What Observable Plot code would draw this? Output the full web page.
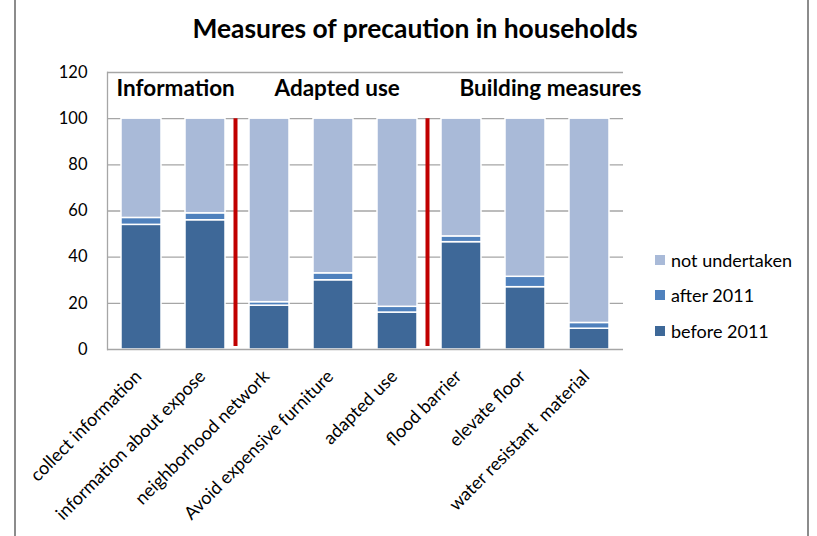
<!DOCTYPE html>
<html>
<head>
<meta charset="utf-8">
<script src="https://cdn.jsdelivr.net/npm/d3@7"></script>
<script src="https://cdn.jsdelivr.net/npm/@observablehq/plot@0.6"></script>
<style>
  html, body { margin: 0; padding: 0; background: #fff; }
  #wrap { position: relative; width: 817px; height: 536px; overflow: hidden; font-family: Lato, "Open Sans", sans-serif; }
  #wrap .edge { position: absolute; top: 0; bottom: 0; width: 1.5px; background: #8c8c8c; }
  #title { position: absolute; top: 12px; left: 0; width: 830px; text-align: center; font-weight: bold; font-size: 26.4px; color: #000; }
  #legend { position: absolute; left: 655px; top: 242px; font-size: 18px; color: #000; }
  #legend .item { display: flex; align-items: center; height: 35.5px; }
  #legend .sw { width: 10px; height: 10px; margin-right: 6px; }
  #chart { position: absolute; left: 0; top: 0; }
</style>
</head>
<body>
<div id="wrap">
  <div class="edge" style="left:14px"></div>
  <div class="edge" style="left:807px"></div>
  <div id="chart"></div>
  <div id="title"></div>
  <div id="legend"></div>
</div>
<script>
const titleText = "Measures of precaution in households";
const categories = ["collect information", "information about expose", "neighborhood network", "Avoid expensive furniture", "adapted use", "flood barrier", "elevate floor", "water resistant  material"];
const before2011 = [54, 56, 19, 30, 16, 46.5, 27, 9];
const after2011 = [3, 3, 1.5, 3, 2.5, 2.5, 4.5, 2.5];
const notUndertaken = [43, 41, 79.5, 67, 81.5, 51, 68.5, 88.5];
const statuses = ["before 2011", "after 2011", "not undertaken"];
const statusColors = ["#3e6898", "#4f81bd", "#a9bad8"];
const legendOrder = ["not undertaken", "after 2011", "before 2011"];
const yTicks = [0, 20, 40, 60, 80, 100, 120];
const groupLabels = ["Information", "Adapted use", "Building measures"];
const groupStart = ["collect information", "neighborhood network", "flood barrier"];
const separatorsAfter = ["information about expose", "adapted use"];

const rows = categories.flatMap((c, i) => [
  {cat: c, status: statuses[0], v: before2011[i]},
  {cat: c, status: statuses[1], v: after2011[i]},
  {cat: c, status: statuses[2], v: notUndertaken[i]}
]);
const groups = groupLabels.map((label, i) => ({label, cat: groupStart[i]}));
const groupDx = [-25, 5, -2];
const groupMarks = groups.map((g, i) =>
  Plot.text([g], {x: "cat", y: 113, text: "label", textAnchor: "start", dx: groupDx[i], fontWeight: "bold", fontSize: 22.5})
);

const chart = Plot.plot({
  width: 817,
  height: 536,
  marginLeft: 107,
  marginRight: 194,
  marginTop: 72,
  marginBottom: 187,
  style: {fontFamily: "Lato, 'Open Sans', sans-serif", fontSize: "15px", background: "transparent", color: "#000"},
  x: {domain: categories, paddingInner: 0.38, paddingOuter: 0.19, label: null},
  y: {domain: [0, 120], label: null},
  color: {domain: statuses, range: statusColors},
  marks: [
    Plot.ruleY(yTicks.slice(1), {stroke: "#a6a6a6", strokeWidth: 1.3}),
    Plot.barY(rows, {x: "cat", y: "v", fill: "status", stroke: "white", strokeWidth: 1.5}),
    Plot.ruleY([0], {stroke: "#a6a6a6", strokeWidth: 1.3}),
    Plot.frame({anchor: "left", stroke: "#a6a6a6", strokeWidth: 1.3}),
    Plot.ruleX(separatorsAfter, {x: d => d, y1: 1.3, y2: 100, stroke: "#c00000", strokeWidth: 4, dx: 30}),
    ...groupMarks,
    Plot.axisY({ticks: yTicks, tickSize: 0, tickPadding: 20, fontSize: 16.5, label: null}),
    Plot.axisX({tickRotate: -45, tickSize: 0, tickPadding: 24, dx: -3, fontSize: 18, label: null})
  ]
});
document.getElementById("chart").appendChild(chart);

document.getElementById("title").textContent = titleText;
const legend = d3.select("#legend");
legendOrder.forEach(s => {
  const item = legend.append("div").attr("class", "item");
  item.append("div").attr("class", "sw").style("background", statusColors[statuses.indexOf(s)]);
  item.append("span").text(s);
});
</script>
</body>
</html>
